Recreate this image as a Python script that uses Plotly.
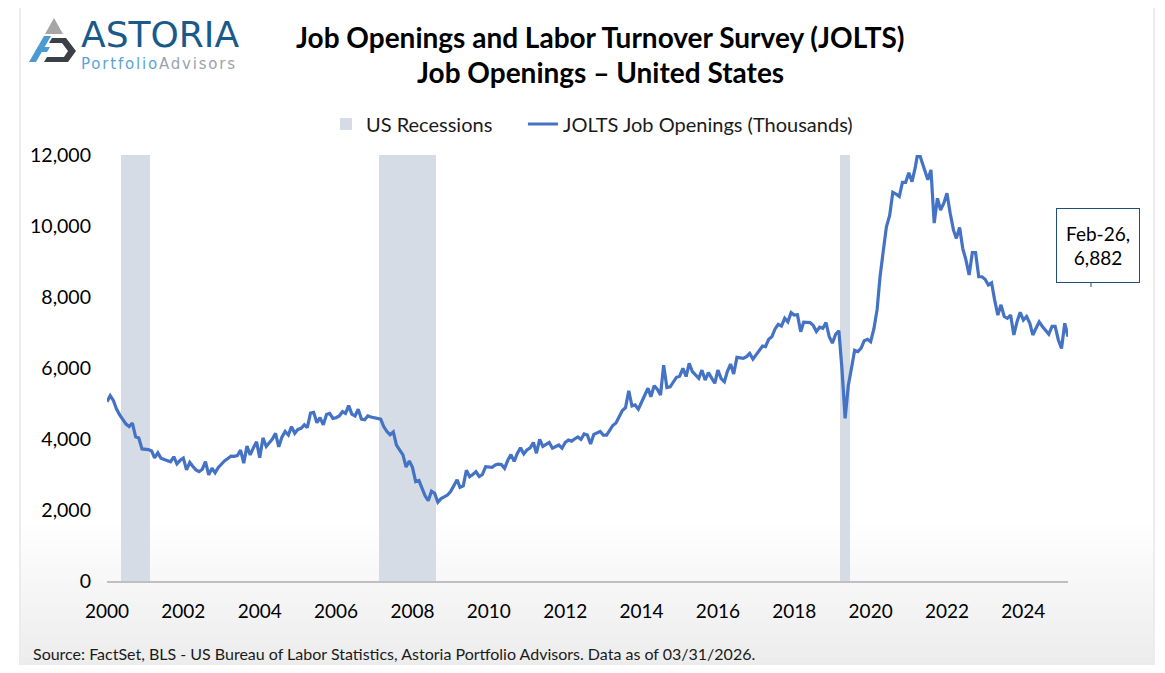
import pandas as pd
import plotly.graph_objects as go

# ---------------- DATA ----------------
start_month = "2000-12-01"
v2000 = [5050]
v2001 = [5220, 5080, 4850, 4680, 4540, 4420, 4350, 4450, 4060, 4030, 3720, 3720]
v2002 = [3700, 3660, 3470, 3610, 3460, 3420, 3380, 3360, 3500, 3300, 3400, 3460]
v2003 = [3130, 3340, 3230, 3130, 3080, 3150, 3360, 2990, 3180, 3050, 3200, 3300]
v2004 = [3390, 3450, 3520, 3510, 3530, 3690, 3320, 3800, 3550, 3750, 3920, 3470]
v2005 = [4030, 3790, 3900, 4000, 4160, 3780, 4050, 4210, 4110, 4350, 4160, 4270]
v2006 = [4300, 4400, 4320, 4730, 4750, 4460, 4600, 4400, 4690, 4720, 4580, 4600]
v2007 = [4650, 4770, 4720, 4940, 4700, 4650, 4840, 4560, 4540, 4650, 4620, 4600]
v2008 = [4590, 4560, 4350, 4210, 4120, 4200, 3830, 3690, 3550, 3210, 3380, 3200]
v2009 = [2800, 2830, 2600, 2400, 2260, 2530, 2470, 2220, 2320, 2380, 2420, 2520]
v2010 = [2700, 2850, 2640, 2680, 3120, 2940, 3000, 3080, 2940, 3000, 3220, 3200]
v2011 = [3200, 3270, 3290, 3280, 3170, 3400, 3560, 3370, 3600, 3750, 3580, 3690]
v2012 = [3750, 3900, 3600, 3990, 3790, 3850, 3900, 3740, 3790, 3830, 3740, 3900]
v2013 = [3970, 3940, 4000, 4060, 3990, 4140, 4110, 3860, 4130, 4170, 4210, 4110]
v2014 = [4110, 4250, 4380, 4450, 4620, 4800, 4880, 5360, 4930, 4960, 4840, 5050]
v2015 = [5240, 5430, 5190, 5500, 5400, 5240, 6080, 5450, 5470, 5600, 5740, 5770]
v2016 = [5990, 5760, 6130, 5900, 5800, 5710, 5940, 5660, 5870, 5700, 5570, 5940]
v2017 = [5700, 5610, 5900, 6110, 5830, 6300, 6280, 6270, 6320, 6410, 6250, 6370]
v2018 = [6500, 6620, 6600, 6810, 6880, 7100, 7230, 7180, 7400, 7300, 7560, 7490]
v2019 = [7500, 7020, 7290, 7280, 7280, 7200, 7030, 7150, 7120, 7280, 6880, 6700]
v2020 = [6950, 7050, 6000, 4580, 5500, 6000, 6500, 6460, 6560, 6770, 6810, 6740]
v2021 = [7100, 7650, 8570, 9300, 9980, 10300, 10950, 10900, 10830, 11230, 11230, 11500]
v2022 = [11250, 11650, 12130, 11850, 11600, 11300, 11580, 10080, 10780, 10450, 10640, 10920]
v2023 = [10360, 9890, 9650, 9960, 9370, 9040, 8620, 9250, 9250, 8570, 8570, 8500]
v2024 = [8340, 8400, 7920, 7490, 7780, 7450, 7400, 7490, 6930, 7300, 7570, 7350]
v2025 = [7450, 7260, 6930, 7120, 7300, 7170, 7070, 6950, 7170, 7170, 6790, 6550]
v2026 = [7260, 6882]

recession_periods = [("2001-05-01", "2002-01-01"),
                     ("2008-02-01", "2009-07-01"),
                     ("2020-03-01", "2020-05-01")]

tick_dates = ["2000-12-01", "2002-12-01", "2004-12-01", "2006-12-01", "2008-12-01",
              "2010-12-01", "2012-12-01", "2014-12-01", "2016-12-01", "2018-12-01",
              "2020-12-01", "2022-12-01", "2024-12-01"]
tick_text = ["2000", "2002", "2004", "2006", "2008", "2010", "2012", "2014",
             "2016", "2018", "2020", "2022", "2024"]
y_ticks = [0, 2000, 4000, 6000, 8000, 10000, 12000]

last_label = "Feb-26,<br>6,882"
series_names = ["US Recessions", "JOLTS Job Openings (Thousands)"]

# ---------------- BUILD ----------------
values = (v2000 + v2001 + v2002 + v2003 + v2004 + v2005 + v2006 + v2007 + v2008 +
          v2009 + v2010 + v2011 + v2012 + v2013 + v2014 + v2015 + v2016 + v2017 +
          v2018 + v2019 + v2020 + v2021 + v2022 + v2023 + v2024 + v2025 + v2026)
dates = pd.date_range(start_month, periods=len(values), freq="MS")

rec_months = []
for s, e in recession_periods:
    rec_months += list(pd.date_range(s, e, freq="MS"))
Y_MAX = 12000

# page body has an 8px margin: the figure covers reference pixels [8, 1157] x [8, 665]
OFF = 8
W, H = 1165 - 2 * OFF, 673 - 2 * OFF
PL, PR, PT, PB = 107, 1068, 155, 581   # plot area in reference pixels


def px(x):
    return (x - PL) / (PR - PL)


def py(y):
    return (PB - y) / (PB - PT)


FONT = "Lato"
NB = "\u00a0"
fig = go.Figure()
fig.add_trace(go.Bar(
    x=rec_months, y=[Y_MAX] * len(rec_months),
    width=[31 * 24 * 3600 * 1000] * len(rec_months),
    marker=dict(color="#D6DCE5", line=dict(width=0)),
    name=series_names[0] + NB * 5, hoverinfo="skip"))
fig.add_trace(go.Scatter(
    x=dates, y=values, mode="lines",
    line=dict(color="#4472C4", width=3.2),
    name=series_names[1]))

shapes = []
# outer border
shapes.append(dict(type="rect", xref="paper", yref="paper",
                   x0=px(20), x1=px(1154), y0=py(700), y1=py(5),
                   line=dict(color="#D9D9D9", width=1), fillcolor="rgba(0,0,0,0)",
                   layer="below"))
# bottom gradient
n = 30
g0, g1 = 520, 666
for i in range(n):
    ya = g0 + (g1 - g0) * i / n
    yb = g0 + (g1 - g0) * (i + 1) / n
    t = (i + 0.5) / n
    c = int(round(255 - (255 - 236) * t))
    shapes.append(dict(type="rect", xref="paper", yref="paper",
                       x0=px(21), x1=px(1153), y0=py(yb + 0.5), y1=py(ya),
                       line=dict(width=0), fillcolor=f"rgb({c},{c},{c})",
                       layer="below"))


def path(pts):
    return "M " + " L ".join(f"{px(a):.5f},{py(b):.5f}" for a, b in pts) + " Z"


# logo icon
shapes.append(dict(type="path", xref="paper", yref="paper",
                   path=path([(54, 18), (63, 34), (45, 34)]),
                   fillcolor="#A6A6A6", line=dict(width=0)))
shapes.append(dict(type="path", xref="paper", yref="paper",
                   path=path([(44, 36), (51, 36), (36, 62), (29, 62)]),
                   fillcolor="#4A9AD4", line=dict(width=0)))
shapes.append(dict(type="path", xref="paper", yref="paper",
                   path=path([(38, 47), (50, 47), (47, 52), (35, 52)]),
                   fillcolor="#4A9AD4", line=dict(width=0)))
shapes.append(dict(type="path", xref="paper", yref="paper",
                   path=path([(52, 38), (66, 38), (76, 51), (68, 62), (44, 62),
                              (47, 57), (64, 57), (68, 51), (62, 43), (49, 43)]),
                   fillcolor="#3B4046", line=dict(width=0)))
# stub under label box
shapes.append(dict(type="line", xref="paper", yref="paper",
                   x0=px(1091), x1=px(1091), y0=py(283), y1=py(287),
                   line=dict(color="#1F4E79", width=1)))

logo_text = ("<span style='font-size:36px;color:#1A5A8A'>ASTORIA</span><br>"
             "<span style='font-size:15px;color:#5BA3DA;letter-spacing:1.8px'>Portfolio</span>"
             "<span style='font-size:15px;color:#9AA3AB;letter-spacing:1.8px'>Advisors</span>")

annotations = [
    dict(text="<b>Job Openings and Labor Turnover Survey (JOLTS)</b>",
         x=px(600), y=py(37), xref="paper", yref="paper", showarrow=False,
         font=dict(family=FONT, size=28, color="#000000"), xanchor="center", yanchor="middle"),
    dict(text="<b>Job Openings – United States</b>",
         x=px(600), y=py(72), xref="paper", yref="paper", showarrow=False,
         font=dict(family=FONT, size=28, color="#000000"), xanchor="center", yanchor="middle"),
    dict(text=logo_text, x=px(79), y=py(44), xref="paper", yref="paper", showarrow=False,
         font=dict(family="DejaVu Sans", size=17), xanchor="left", yanchor="middle",
         align="left"),
    dict(text=last_label, x=px(1098), y=py(245.5), xref="paper", yref="paper", showarrow=False,
         font=dict(family=FONT, size=19, color="#000000"), xanchor="center", yanchor="middle",
         bordercolor="#1F4E79", borderwidth=1, borderpad=0, bgcolor="#FFFFFF",
         width=82, height=73, align="center"),
    dict(text="Source: FactSet, BLS - US Bureau of Labor Statistics, Astoria Portfolio Advisors. Data as of 03/31/2026.",
         x=px(31), y=py(653), xref="paper", yref="paper", showarrow=False,
         font=dict(family=FONT, size=16, color="#1A1A1A"), xanchor="left", yanchor="middle"),
]

fig.update_layout(
    width=W, height=H,
    margin=dict(l=PL - OFF, r=(1165 - OFF) - PR, t=PT - OFF, b=(673 - OFF) - PB, pad=0),
    paper_bgcolor="#FFFFFF", plot_bgcolor="rgba(0,0,0,0)",
    bargap=0, barmode="overlay",
    showlegend=True,
    legend=dict(orientation="h", x=px(592), xanchor="center", y=py(124), yanchor="middle",
                font=dict(family=FONT, size=20, color="#1A1A1A"),
                bgcolor="rgba(0,0,0,0)", itemwidth=30, traceorder="normal"),
    shapes=shapes, annotations=annotations,
    font=dict(family=FONT),
)
fig.update_xaxes(type="date", range=["2000-12-01", "2026-02-01"],
                 tickmode="array", tickvals=tick_dates, ticktext=tick_text,
                 showgrid=False, zeroline=False, showline=True, linecolor="#BFBFBF", linewidth=1.5,
                 ticks="", tickfont=dict(family=FONT, size=19, color="#000000"),
                 ticklabelstandoff=12)
fig.update_yaxes(range=[0, Y_MAX], tickmode="array", tickvals=y_ticks, tickformat=",",
                 showgrid=False, zeroline=False, showline=False, ticks="",
                 tickfont=dict(family=FONT, size=19.5, color="#000000"),
                 ticklabelstandoff=15)

fig.write_html("out.html")
